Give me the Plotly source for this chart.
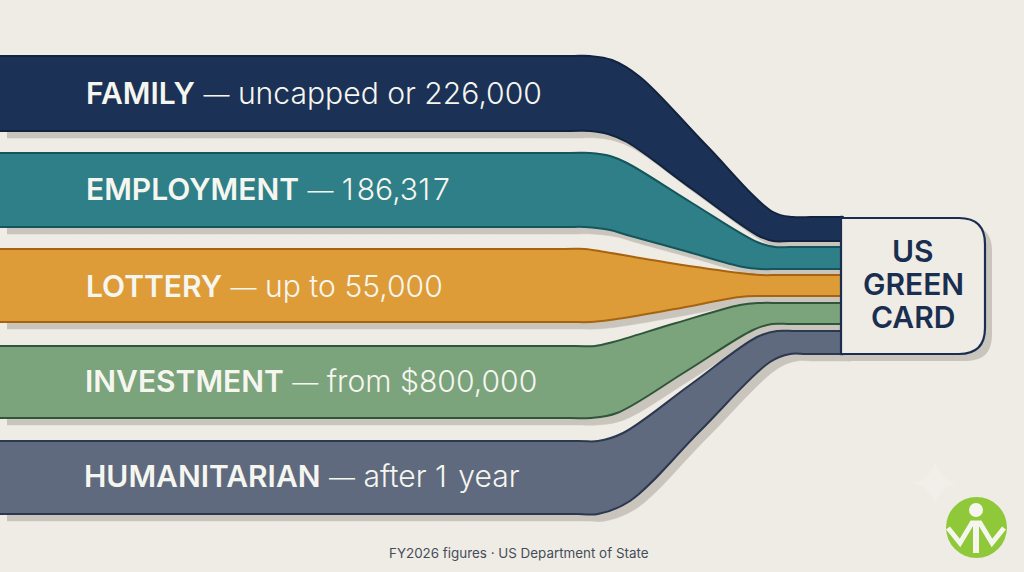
import plotly.graph_objects as go

# everything is in picture pixels: x 0-1024, y 0-572 downwards
categories = ["FAMILY", "EMPLOYMENT", "LOTTERY", "INVESTMENT", "HUMANITARIAN"]
details = ["uncapped or 226,000", "186,317", "up to 55,000", "from $800,000", "after 1 year"]
label_x = [84, 84, 84, 83, 82]
label_y = [93, 189, 286, 381, 476]

fills = ["#1b3155", "#2e7f87", "#de9c38", "#7ba37c", "#5f6a7e"]
edges = ["#12233f", "#14565c", "#a8630f", "#30563a", "#2c3850"]

# band edges, only the part where they bend
family_x_top = [570, 590, 612, 640, 706, 773, 793, 810]
family_y_top = [56, 56, 60, 77, 145, 212, 217, 217]
family_x_bot = [570, 590, 608, 627, 692, 757, 773, 790]
family_y_bot = [131, 131, 134, 142, 189, 235, 241, 241]

employment_x_top = [570, 590, 610, 627, 692, 757, 775, 790]
employment_y_top = [153, 153, 156, 163, 203, 242, 247, 247]
employment_x_bot = [565, 585, 610, 627, 685, 743, 760, 780]
employment_y_bot = [227, 227, 230, 235, 251, 267, 269, 269]

lottery_x_top = [565, 585, 605, 670, 740, 760, 780]
lottery_y_top = [249, 249, 252, 263, 273, 275, 275]
lottery_x_bot = [570, 590, 610, 675, 740, 760, 780]
lottery_y_bot = [322, 322, 320, 309, 297, 296, 296]

investment_x_top = [575, 595, 613, 676, 740, 760, 780]
investment_y_top = [346, 346, 342, 323, 305, 303, 303]
investment_x_bot = [570, 590, 617, 685, 753, 772, 790]
investment_y_bot = [418, 418, 413, 372, 330, 324, 324]

humanitarian_x_top = [578, 598, 623, 690, 757, 777, 795]
humanitarian_y_top = [441, 441, 433, 385, 337, 331, 331]
humanitarian_x_bot = [578, 598, 630, 700, 770, 790, 805]
humanitarian_y_bot = [514, 514, 501, 431, 362, 354, 354]

band_x_top = [family_x_top, employment_x_top, lottery_x_top, investment_x_top, humanitarian_x_top]
band_y_top = [family_y_top, employment_y_top, lottery_y_top, investment_y_top, humanitarian_y_top]
band_x_bot = [family_x_bot, employment_x_bot, lottery_x_bot, investment_x_bot, humanitarian_x_bot]
band_y_bot = [family_y_bot, employment_y_bot, lottery_y_bot, investment_y_bot, humanitarian_y_bot]

box_lines = ["US", "GREEN", "CARD"]
box_line_y = [251, 284, 317]
footer = "FY2026 figures · US Department of State"

logo_x = [948, 960, 972, 980, 992, 1004]
logo_y = [528, 543, 523, 523, 543, 528]

BG = "#efece6"
SHADOW = "#c9c5bd"
NAVY = "#1a2f50"
LOGO = "#8fc93a"
WHITE = "#f6f6ee"
FONT = "Inter"

# extra flat knots so the spline stays straight away from the bends
LEFT_KNOTS = [-20, -10, 5, 300]
RIGHT_KNOTS = [815, 828, 840, 843]

fig = go.Figure()


def outline(i):
    top_y, bot_y = band_y_top[i], band_y_bot[i]
    xs = LEFT_KNOTS + band_x_top[i] + RIGHT_KNOTS + RIGHT_KNOTS[::-1] + band_x_bot[i][::-1] + LEFT_KNOTS[::-1]
    ys = ([top_y[0]] * 4 + top_y + [top_y[-1]] * 4 + [bot_y[-1]] * 4 + bot_y[::-1] + [bot_y[0]] * 4)
    return xs, ys


def add_band(xs, ys, fill, edge, width):
    fig.add_trace(go.Scatter(x=xs, y=ys, mode="lines", fill="toself", fillcolor=fill,
                             line=dict(color=edge, width=width, shape="spline", smoothing=1),
                             hoverinfo="skip", showlegend=False))


# shadows first, all of them, so no band gets covered by the one below it
for i in range(len(categories)):
    xs, ys = outline(i)
    # shadow starts at x=7 in the picture
    add_band([max(x + 7, 7) for x in xs], [y + 7 for y in ys], SHADOW, SHADOW, 0.5)

for i in range(len(categories)):
    xs, ys = outline(i)
    add_band(xs, ys, fills[i], edges[i], 2)

# the box, with only the right corners rounded
bl, bt, br, bb, rad = 841, 218, 985, 354, 26


def box_path(dx=0, dy=0):
    l, t, r, b = bl + dx, bt + dy, br + dx, bb + dy
    return (f"M{l},{t} L{r - rad},{t} Q{r},{t} {r},{t + rad} L{r},{b - rad} "
            f"Q{r},{b} {r - rad},{b} L{l},{b} Z")


shapes = [
    dict(type="path", path=box_path(7, 7), fillcolor=SHADOW, line=dict(width=0), layer="above"),
    dict(type="path", path=box_path(), fillcolor=BG, line=dict(color=NAVY, width=2.2), layer="above"),
    # logo disc and head go under the traces, the W is a trace
    dict(type="circle", x0=946, x1=1007, y0=497, y1=558, fillcolor=LOGO, line=dict(width=0), layer="below"),
    dict(type="circle", x0=969, x1=983, y0=503, y1=517, fillcolor=WHITE, line=dict(width=0), layer="below"),
]

fig.add_trace(go.Scatter(x=logo_x, y=logo_y, mode="lines", line=dict(color=WHITE, width=5),
                         hoverinfo="skip", showlegend=False))
fig.add_trace(go.Scatter(x=[976, 976], y=[523, 553], mode="lines", line=dict(color=WHITE, width=6),
                         hoverinfo="skip", showlegend=False))
# the faint sparkle above the logo
fig.add_trace(go.Scatter(x=[935], y=[483], mode="markers",
                         marker=dict(symbol="star-diamond", size=30, color="#f1efe9", line=dict(width=0)),
                         hoverinfo="skip", showlegend=False))

# the reference sets its 1 with more room around it
WIDE_ONE = '<span style="letter-spacing:3px">1</span>'

annotations = []
for name, detail, x, y in zip(categories, details, label_x, label_y):
    annotations.append(dict(
        x=x, y=y, xanchor="left", yanchor="middle", showarrow=False,
        text=f'<span style="font-weight:600">{name}</span>'
             f'<span style="font-weight:300"> <span style="font-size:26px">—</span> </span>'
             f'<span style="font-weight:300;font-size:30.1px">{detail.replace("1", WIDE_ONE)}</span>',
        font=dict(family=FONT, size=30, color="#f6f6f0")))

for line, y in zip(box_lines, box_line_y):
    annotations.append(dict(x=913, y=y, xanchor="center", yanchor="middle", showarrow=False,
                            text=f'<span style="font-weight:600">{line}</span>',
                            font=dict(family=FONT, size=30, color=NAVY)))

annotations.append(dict(x=519, y=553, xanchor="center", yanchor="middle", showarrow=False,
                        text=footer, font=dict(family=FONT, size=13.4, color="#454c58")))

fig.update_layout(
    width=1024, height=572,
    margin=dict(l=0, r=0, t=0, b=0),
    paper_bgcolor=BG, plot_bgcolor="rgba(0,0,0,0)",
    xaxis=dict(range=[0, 1024], visible=False, fixedrange=True),
    yaxis=dict(range=[572, 0], visible=False, fixedrange=True),
    shapes=shapes, annotations=annotations,
    showlegend=False, hovermode=False,
)

fig.write_html("out.html", config={"displayModeBar": False},
               post_script="document.body.style.margin='0';document.body.style.overflow='hidden';")
